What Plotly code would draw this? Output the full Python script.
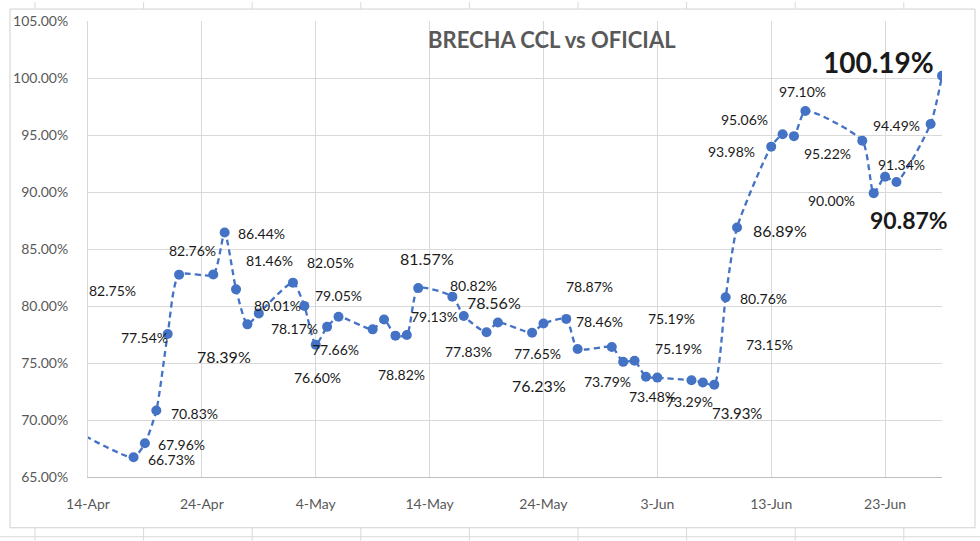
import datetime as dt
import plotly.graph_objects as go

# ---- data (brecha CCL vs oficial, %) ----
dates = [
    "2022-04-13", "2022-04-18", "2022-04-19", "2022-04-20", "2022-04-21", "2022-04-22",
    "2022-04-25", "2022-04-26", "2022-04-27", "2022-04-28", "2022-04-29",
    "2022-05-02", "2022-05-03", "2022-05-04", "2022-05-05", "2022-05-06",
    "2022-05-09", "2022-05-10", "2022-05-11", "2022-05-12", "2022-05-13",
    "2022-05-16", "2022-05-17", "2022-05-19", "2022-05-20",
    "2022-05-23", "2022-05-24", "2022-05-26", "2022-05-27",
    "2022-05-30", "2022-05-31", "2022-06-01", "2022-06-02", "2022-06-03",
    "2022-06-06", "2022-06-07", "2022-06-08", "2022-06-09", "2022-06-10",
    "2022-06-13", "2022-06-14", "2022-06-15", "2022-06-16",
    "2022-06-21", "2022-06-22", "2022-06-23", "2022-06-24",
    "2022-06-27", "2022-06-28",
]
brecha = [
    69.00, 66.73, 67.96, 70.83, 77.54, 82.75,
    82.76, 86.44, 81.46, 78.39, 79.35,
    82.05, 80.01, 76.60, 78.17, 79.05,
    77.95, 78.82, 77.40, 77.45, 81.57,
    80.82, 79.13, 77.70, 78.56,
    77.65, 78.46, 78.87, 76.23,
    76.40, 75.10, 75.19, 73.79, 73.72,
    73.48, 73.29, 73.10, 80.76, 86.89,
    93.98, 95.06, 94.90, 97.10,
    94.49, 89.90, 91.34, 90.87,
    95.97, 100.19,
]

title_text = "BRECHA CCL vs OFICIAL"
x_start = "2022-04-14"
x_end = "2022-06-28"
y_min, y_max = 65, 105

# data labels as placed in the original (text, days after 14-Apr, value, size, bold)
labels = [
    ("82.75%", 2.19, 81.33, 14, False),
    ("77.54%", 4.92, 77.23, 14, False),
    ("70.83%", 9.39, 70.59, 14, False),
    ("67.96%", 8.25, 67.88, 14, False),
    ("66.73%", 7.29, 66.57, 14, False),
    ("82.76%", 9.22, 84.83, 14, False),
    ("86.44%", 15.28, 86.40, 14, False),
    ("81.46%", 15.98, 83.95, 14, False),
    ("78.39%", 11.94, 75.57, 16, False),
    ("80.01%", 16.68, 80.02, 14, False),
    ("78.17%", 18.17, 78.01, 14, False),
    ("82.05%", 21.33, 83.86, 14, False),
    ("79.05%", 22.04, 80.90, 14, False),
    ("77.66%", 21.77, 76.18, 14, False),
    ("76.60%", 20.19, 73.73, 14, False),
    ("78.82%", 27.57, 74.00, 14, False),
    ("81.57%", 29.76, 84.21, 16, False),
    ("79.13%", 30.47, 79.06, 14, False),
    ("80.82%", 33.89, 81.77, 14, False),
    ("78.56%", 35.65, 80.28, 16, False),
    ("77.83%", 33.45, 76.00, 14, False),
    ("77.65%", 39.51, 75.83, 14, False),
    ("76.23%", 39.60, 73.03, 16, False),
    ("78.87%", 44.07, 81.68, 14, False),
    ("78.46%", 44.95, 78.62, 14, False),
    ("73.79%", 45.65, 73.38, 14, False),
    ("73.48%", 49.60, 72.07, 14, False),
    ("73.29%", 52.85, 71.64, 14, False),
    ("75.19%", 51.27, 78.89, 14, False),
    ("75.19%", 51.89, 76.27, 14, False),
    ("73.93%", 56.98, 70.59, 15, False),
    ("80.76%", 59.35, 80.63, 14, False),
    ("73.15%", 59.88, 76.62, 14, False),
    ("86.89%", 60.75, 86.66, 16, False),
    ("93.98%", 56.54, 93.56, 14, False),
    ("95.06%", 57.68, 96.35, 14, False),
    ("97.10%", 62.77, 98.80, 14, False),
    ("95.22%", 64.97, 93.38, 14, False),
    ("94.49%", 71.03, 95.83, 14, False),
    ("95.97%", 75.24, 95.83, 14, False),
    ("91.34%", 71.47, 92.42, 14, False),
    ("90.00%", 65.32, 89.28, 14, False),
    ("90.87%", 72.08, 87.53, 23, True),
    ("100.19%", 69.45, 101.42, 28, True),
]

FONT = "Lato, 'Open Sans', sans-serif"
BLUE = "#4472C4"
GRID = "#d9d9d9"
TXT = "#595959"

fig = go.Figure()
fig.add_trace(go.Scatter(
    x=dates, y=brecha, mode="lines+markers",
    line=dict(color=BLUE, width=2.3, dash="6px,4px", shape="spline", smoothing=0.6),
    marker=dict(color=BLUE, size=10),
    showlegend=False, hoverinfo="x+y",
))

base = dt.datetime.strptime(x_start, "%Y-%m-%d")
ann = []
for text, off, val, size, bold in labels:
    ann.append(dict(
        x=(base + dt.timedelta(days=off)).strftime("%Y-%m-%d %H:%M"), y=val,
        xref="x", yref="y", text=f"<b>{text}</b>" if bold else text,
        showarrow=False, xanchor="center", yanchor="middle",
        font=dict(family=FONT, size=size, color="#1a1a1a"),
    ))
ann.append(dict(
    x=0.543, y=0.959, xref="paper", yref="paper", text=f"<b>{title_text}</b>",
    showarrow=False, xanchor="center", yanchor="middle",
    font=dict(family=FONT, size=22, color=TXT),
))

# chart frame and spreadsheet cell borders (pixel -> paper conversion)
L, R, T, B = 88, 942, 19, 477
def px(xp):
    return (xp - L) / (R - L)
def py(yp):
    return (B - yp) / (B - T)

shapes = [dict(type="rect", xref="paper", yref="paper",
               x0=px(10), x1=px(975), y0=py(528), y1=py(7),
               line=dict(color="#d0d0d0", width=1), layer="below")]
for k in range(9):
    xc = 35 + 108.6 * k
    shapes.append(dict(type="line", xref="paper", yref="paper", x0=px(xc), x1=px(xc),
                       y0=py(0), y1=py(7), line=dict(color="#d9d9d9", width=1)))
    shapes.append(dict(type="line", xref="paper", yref="paper", x0=px(xc), x1=px(xc),
                       y0=py(528), y1=py(541), line=dict(color="#d9d9d9", width=1)))
shapes.append(dict(type="line", xref="paper", yref="paper", x0=px(0), x1=px(980),
                   y0=py(537), y1=py(537), line=dict(color="#d9d9d9", width=1)))

fig.update_layout(
    width=980, height=541,
    margin=dict(l=L, r=980 - R, t=T, b=541 - B),
    paper_bgcolor="white", plot_bgcolor="white",
    font=dict(family=FONT, color=TXT, size=14),
    annotations=ann, shapes=shapes,
    xaxis=dict(
        type="date", range=[x_start, x_end],
        tick0=x_start, dtick=10 * 86400000, tickformat="%-d-%b",
        showgrid=True, gridcolor=GRID, gridwidth=1,
        showline=True, linecolor="#bfbfbf", linewidth=1,
        ticks="", ticklabelstandoff=14,
        tickfont=dict(family=FONT, size=14, color=TXT),
        zeroline=False,
    ),
    yaxis=dict(
        range=[y_min, y_max], dtick=5, tickformat=".2f", ticksuffix="%",
        showgrid=True, gridcolor=GRID, gridwidth=1,
        showline=True, linecolor=GRID, linewidth=1,
        ticks="", ticklabelstandoff=16,
        tickfont=dict(family=FONT, size=14, color=TXT),
        zeroline=False,
    ),
)

fig.write_html(
    "out.html",
    config={"displayModeBar": False},
    post_script="document.body.style.margin='0';document.body.style.overflow='hidden';",
)
